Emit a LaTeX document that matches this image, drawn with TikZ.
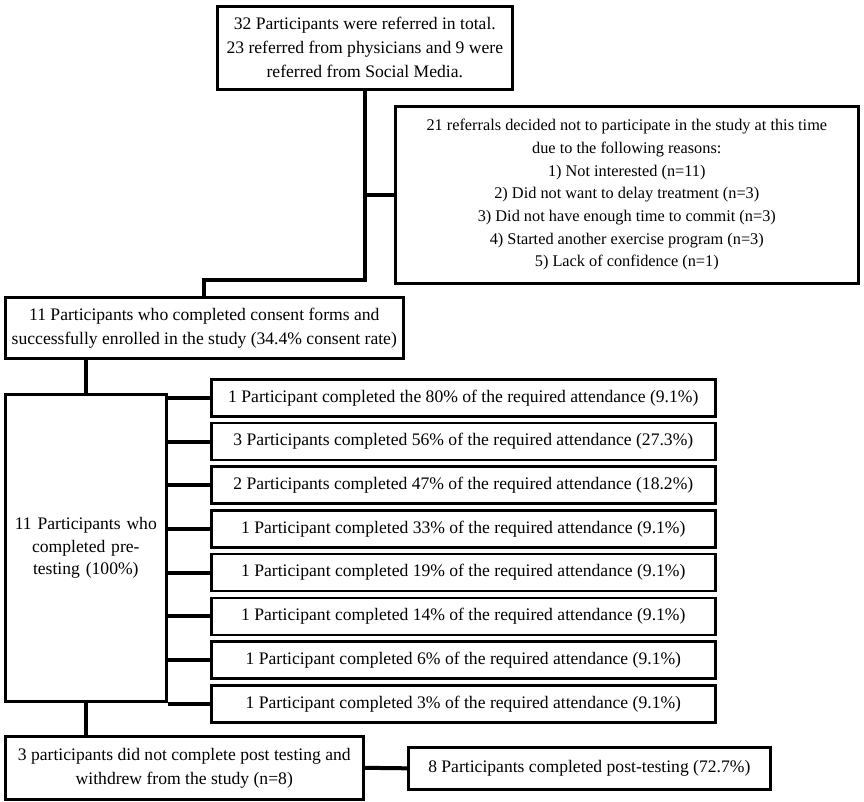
\documentclass[tikz,border=0pt]{standalone}
\usepackage{fontspec}
\setmainfont{Liberation Serif}
\usetikzlibrary{positioning}
\def\attendsep{43.7}
\tikzstyle{flowbox}=[draw, line width=2.6pt, align=center, inner sep=0pt, anchor=north west, font=\fontsize{17.6}{24}\selectfont]
\tikzstyle{attend box}=[flowbox, minimum width=504pt, minimum height=37pt]
\tikzstyle{link}=[line width=4pt]

\begin{document}
\begin{tikzpicture}[x=1pt, y=-1pt]
		\useasboundingbox (0,0) rectangle (864,801);
		% Referral and decline boxes
		\node[flowbox, minimum width=295pt, minimum height=83pt] (Ref) at (216,5) {32 Participants were referred in total.\\23 referred from physicians and 9 were\\referred from Social Media.};
		\node[flowbox, minimum width=463pt, minimum height=177pt, font=\fontsize{16.3}{22.7}\selectfont] (Dec) at (394,105) {21 referrals decided not to participate in the study at this time\\due to the following reasons:\\1) Not interested (n=11)\\2) Did not want to delay treatment (n=3)\\3) Did not have enough time to commit (n=3)\\4) Started another exercise program (n=3)\\5) Lack of confidence (n=1)};
		\node[flowbox, minimum width=398pt, minimum height=61pt] (Con) at (4,296) {11 Participants who completed consent forms and\\successfully enrolled in the study (34.4\% consent rate)};
		\draw[link] (Ref.south) |- (Con.north |- 0,280) -- (Con.north);
		\draw[link] (Ref.south |- Dec.west) -- (Dec.west);
		% Pre-testing box and attendance boxes
		\node[flowbox, minimum width=161pt, minimum height=307pt, text width=155pt, font=\fontsize{17.6}{22.5}\selectfont] (Pre) at (4,393) {11 Participants who\\completed pre-\\testing (100\%)};
		\draw[link] (Pre.north) -- (Pre.north |- Con.south);
		\foreach \name / \txt in {1/1 Participant completed the 80\% of the required attendance (9.1\%),
			2/3 Participants completed 56\% of the required attendance (27.3\%),
			3/2 Participants completed 47\% of the required attendance (18.2\%),
			4/1 Participant completed 33\% of the required attendance (9.1\%),
			5/1 Participant completed 19\% of the required attendance (9.1\%),
			6/1 Participant completed 14\% of the required attendance (9.1\%),
			7/1 Participant completed 6\% of the required attendance (9.1\%),
			8/1 Participant completed 3\% of the required attendance (9.1\%)}
		{
			\node[attend box] (A-\name) at (210,{378+\attendsep*(\name-1)}) {\txt};
			\draw[link] (Pre.east |- A-\name.west) -- (A-\name.west);
		}
		% Post-testing outcome
		\node[flowbox, minimum width=358pt, minimum height=63pt] (Wd) at (4,735) {3 participants did not complete post testing and\\withdrew from the study (n=8)};
		\node[flowbox, minimum width=362pt, minimum height=42pt] (Post) at (407,746) {8 Participants completed post-testing (72.7\%)};
		\draw[link] (Pre.south) -- (Pre.south |- Wd.north);
		\draw[link] (Wd.east) -- (Post.west);
	\end{tikzpicture}
\end{document}
